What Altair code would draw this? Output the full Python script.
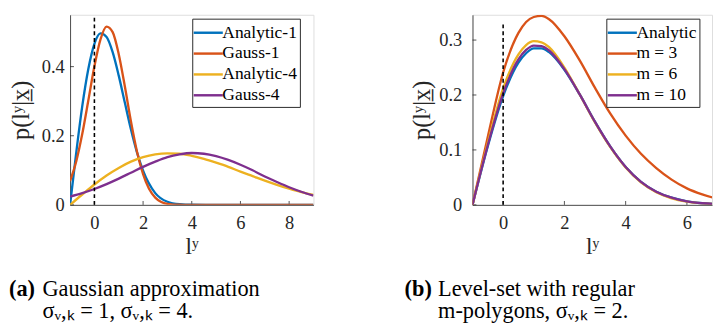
import altair as alt
import pandas as pd

FONT = "Liberation Serif"
AXC = "#262626"
COLORS = ["#0072BD", "#D95319", "#EDB120", "#7E2F8E"]

# ---------------- panel (a) data ----------------
A_NAMES = ["Analytic-1", "Gauss-1", "Analytic-4", "Gauss-4"]
A1_X = [-1, -0.75, -0.5, -0.25, 0, 0.25, 0.5, 0.75, 1, 1.25, 1.5, 1.75, 2, 2.5, 3, 3.5, 4, 5, 6, 7, 8, 9]
A1_ANALYTIC = [0, 0.149, 0.285, 0.393, 0.466, 0.496, 0.486, 0.442, 0.374, 0.296, 0.219, 0.152,
               0.099, 0.034, 0.009, 0.002, 0.0003, 0, 0, 0, 0, 0]
A1_GAUSS = [0.069, 0.125, 0.205, 0.302, 0.401, 0.479, 0.516, 0.500, 0.436, 0.343, 0.242, 0.154,
            0.089, 0.021, 0.003, 0.0003, 0, 0, 0, 0, 0, 0]
A4_X = [-1, -0.5, 0, 0.5, 1, 1.5, 2, 2.5, 3, 3.5, 4, 4.5, 5, 5.5, 6, 6.5, 7, 7.5, 8, 8.5, 9]
A4_ANALYTIC = [0, 0.030, 0.059, 0.085, 0.107, 0.125, 0.138, 0.146, 0.149, 0.148, 0.142, 0.133,
               0.122, 0.110, 0.096, 0.083, 0.070, 0.058, 0.047, 0.037, 0.029]
A4_GAUSS = [0.024, 0.034, 0.046, 0.060, 0.076, 0.093, 0.110, 0.125, 0.138, 0.146, 0.150, 0.148,
            0.141, 0.130, 0.116, 0.100, 0.082, 0.066, 0.051, 0.038, 0.027]
A_XTICKS = [0, 2, 4, 6, 8]
A_YTICKS = [0, 0.2, 0.4]
A_XDOM = [-1, 9]
A_YDOM = [0, 0.55]
A_DASH_TOP = 0.55

# ---------------- panel (b) data ----------------
B_NAMES = ["Analytic", "m = 3", "m = 6", "m = 10"]
B_X = [-1, -0.5, 0, 0.5, 0.75, 1, 1.25, 1.5, 2, 2.5, 3, 3.5, 4, 4.5, 5, 5.5, 6, 6.5, 7]
B_ANALYTIC = [0, 0.107, 0.198, 0.259, 0.276, 0.285, 0.285, 0.278, 0.246, 0.201, 0.151, 0.106,
              0.069, 0.042, 0.024, 0.013, 0.0065, 0.003, 0.0014]
B_M3 = [0, 0.124, 0.241, 0.313, 0.333, 0.342, 0.344, 0.338, 0.307, 0.263, 0.213, 0.166,
        0.126, 0.093, 0.067, 0.046, 0.030, 0.019, 0.011]
B_M6 = [0, 0.113, 0.212, 0.274, 0.291, 0.298, 0.296, 0.287, 0.250, 0.201, 0.150, 0.105,
        0.068, 0.041, 0.023, 0.012, 0.006, 0.0028, 0.0012]
B_M10 = [0, 0.109, 0.203, 0.265, 0.282, 0.290, 0.289, 0.281, 0.247, 0.201, 0.151, 0.106,
         0.069, 0.042, 0.024, 0.013, 0.0064, 0.003, 0.0013]
B_XTICKS = [0, 2, 4, 6]
B_YTICKS = [0, 0.1, 0.2, 0.3]
B_XDOM = [-1, 6.82]
B_YDOM = [0, 0.346]
B_DASH_TOP = 0.33

Y_TITLE = "p(l\u02b8|x\u0332)"
X_TITLE = "l\u02b8"
INDENT = "\u200b" + "\u00a0" * 6


def panel(series_x, series_y, names, xdom, ydom, xticks, yticks, dash_top,
          width, height, legend_x, legend_y, ylab_pad, ytitle_x,
          cap_head, cap_lines, cap_dx):
    rows = []
    for n, xs, ys in zip(names, series_x, series_y):
        for xv, yv in zip(xs, ys):
            rows.append({"series": n, "x": xv, "y": yv})
    df = pd.DataFrame(rows)

    X = alt.X("x:Q", scale=alt.Scale(domain=xdom, nice=False, zero=False),
              axis=alt.Axis(values=xticks, title=X_TITLE, ticks=False, grid=False,
                            domainColor=AXC, domainWidth=0.8,
                            labelFont=FONT, labelFontSize=19, labelFontWeight="normal",
                            labelColor=AXC, labelPadding=9, labelFlush=False,
                            titleFont=FONT, titleFontSize=24, titleFontWeight="normal",
                            titleColor=AXC, titlePadding=3))
    Y = alt.Y("y:Q", scale=alt.Scale(domain=ydom, nice=False, zero=False),
              axis=alt.Axis(values=yticks, format="~g", title=Y_TITLE, ticks=False, grid=False,
                            domainColor=AXC, domainWidth=0.8,
                            labelFont=FONT, labelFontSize=19, labelFontWeight="normal",
                            labelColor=AXC, labelPadding=ylab_pad, labelFlush=False,
                            titleFont=FONT, titleFontSize=25, titleFontWeight="normal",
                            titleColor=AXC, titleX=ytitle_x, titleBaseline="bottom"))

    # inward tick stubs (length in data units derived from a pixel size)
    ylen = (ydom[1] - ydom[0]) * 4.0 / height
    xlen = (xdom[1] - xdom[0]) * 4.0 / width
    xt_df = pd.DataFrame({"x": xticks, "y": [ydom[0]] * len(xticks),
                          "y2": [ydom[0] + ylen] * len(xticks)})
    yt_df = pd.DataFrame({"x": [xdom[0]] * len(yticks), "x2": [xdom[0] + xlen] * len(yticks),
                          "y": yticks})
    xt = alt.Chart(xt_df).mark_rule(color=AXC, strokeWidth=0.8).encode(
        x=X, y=Y, y2=alt.Y2("y2:Q"))
    yt = alt.Chart(yt_df).mark_rule(color=AXC, strokeWidth=0.8).encode(
        x=X, x2=alt.X2("x2:Q"), y=Y)

    lines = alt.Chart(df).mark_line(strokeWidth=2.4, interpolate="monotone", clip=True).encode(
        x=X, y=Y,
        color=alt.Color("series:N", sort=names,
                        scale=alt.Scale(domain=names, range=COLORS),
                        legend=alt.Legend(title=None, orient="none",
                                          legendX=legend_x, legendY=legend_y,
                                          symbolType="M-1.5,0H1.5", symbolSize=400,
                                          symbolStrokeWidth=2.5, symbolOffset=2,
                                          labelFont=FONT, labelFontSize=18,
                                          labelFontWeight="normal",
                                          labelColor="black", labelOffset=3,
                                          strokeColor=AXC, fillColor="white",
                                          padding=3, rowPadding=0.5)),
    )

    dash_df = pd.DataFrame({"x": [0], "y": [ydom[0]], "y2": [dash_top]})
    dash = alt.Chart(dash_df).mark_rule(color="black", strokeDash=[4, 3], strokeWidth=1.6).encode(
        x=X, y=Y, y2=alt.Y2("y2:Q"))

    return alt.layer(xt, yt, lines, dash).properties(
        width=width, height=height,
        title=alt.Title(text=cap_head, subtitle=cap_lines, orient="bottom", anchor="start",
                        frame="bounds", font=FONT, fontSize=23, fontWeight="bold",
                        color="black", offset=21, dx=cap_dx,
                        subtitleFont=FONT, subtitleFontSize=23, subtitleFontWeight="normal",
                        subtitleColor="black",
                        subtitleLineHeight=23, subtitlePadding=-23))


pa = panel([A1_X, A1_X, A4_X, A4_X], [A1_ANALYTIC, A1_GAUSS, A4_ANALYTIC, A4_GAUSS], A_NAMES,
           A_XDOM, A_YDOM, A_XTICKS, A_YTICKS, A_DASH_TOP, 251, 196, 126, 4, 6, -38,
           "(a)", [INDENT + "Gaussian approximation",
                   INDENT + "\u03c3\u1d65,\u2096 = 1, \u03c3\u1d65,\u2096 = 4."], 0)
pb = panel([B_X] * 4, [B_ANALYTIC, B_M3, B_M6, B_M10], B_NAMES,
           B_XDOM, B_YDOM, B_XTICKS, B_YTICKS, B_DASH_TOP, 247, 196, 138, 4, 11, -39,
           "(b)", [INDENT + "Level-set with regular",
                   INDENT + "m-polygons, \u03c3\u1d65,\u2096 = 2."], -6)

chart = alt.hconcat(pa, pb, spacing=92).resolve_scale(
    color="independent").configure_view(stroke=None).configure(
    font=FONT).configure_axis(labelFont=FONT, titleFont=FONT).configure_legend(
    labelFont=FONT).configure_title(font=FONT, subtitleFont=FONT).properties(padding=0)

chart.save("out.html", embed_options={"renderer": "svg", "actions": False})
